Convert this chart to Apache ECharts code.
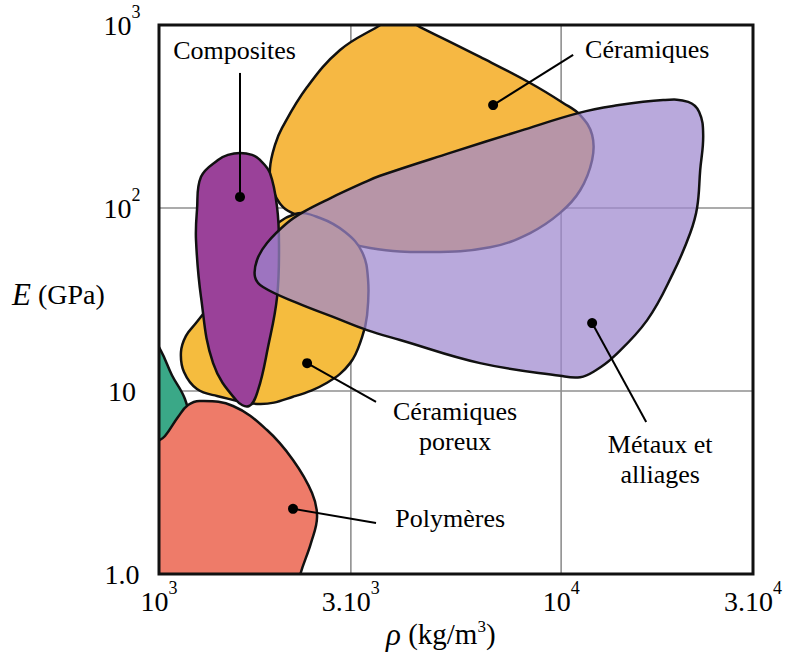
<!DOCTYPE html>
<html>
<head>
<meta charset="utf-8">
<script src="https://cdn.jsdelivr.net/npm/echarts@6/dist/echarts.min.js"></script>
<style>
  html, body { margin: 0; padding: 0; background: #fff; }
  #chart { width: 788px; height: 655px; }
</style>
</head>
<body>
<div id="chart"></div>
<script>
// Ashby chart: Young's modulus E (GPa) against density rho (kg/m3), log-log.
// Each material family is an envelope given as [rho, E] outline points.

const rhoRange = [1000, 30000];
const eRange = [1, 1000];

const rhoTicks = [1000, 3000, 10000, 30000];
const rhoTickLabels = ['{b|10}{s|3}', '{b|3.10}{s|3}', '{b|10}{s|4}', '{b|3.10}{s|4}'];
const eTicks = [1, 10, 100, 1000];
const eTickLabels = ['{b|1.0}', '{b|10}', '{b|10}{s|2}', '{b|10}{s|3}'];

const ceramiques = [
  [2035, 101], [1910, 129], [1888, 165], [1943, 221], [2023, 274], [2335, 458],
  [2820, 730], [3486, 975], [3931, 1120], [4459, 975], [6288, 669], [8374, 482],
  [10116, 375], [11151, 322], [11942, 251], [11942, 183], [11151, 125], [9943, 94],
  [8374, 73], [6658, 61], [4722, 57.5], [3349, 60.5], [2664, 71], [2282, 88]
];

const ceramiquesPoreux = [
  [2179, 92.7], [2515, 88.2], [2902, 73.9], [3199, 57.5], [3311, 40.4], [3292, 26],
  [3199, 19.7], [2987, 14.2], [2618, 11.1], [2154, 9.3], [1783, 8.49], [1394, 9.4],
  [1243, 10.25], [1154, 12.7], [1134, 16.3], [1167, 20], [1236, 23.5], [1502, 40.4],
  [1835, 71.2]
];

const composites = [
  [1590, 200], [1704, 195], [1783, 183], [1888, 155], [1966, 101], [1988, 62.8],
  [1966, 32.6], [1867, 17.4], [1763, 10.1], [1675, 8.28], [1554, 8.93], [1363, 14.2],
  [1272, 32.6], [1236, 66.9], [1243, 97.5], [1272, 148], [1402, 183], [1484, 195]
];

const familleVerte = [
  [950, 20.2], [1012, 16.5], [1077, 12.2], [1160, 9.04], [1181, 6.94], [1096, 4.47],
  [950, 3.7]
];

const polymeres = [
  [1265, 8.82], [1528, 8.28], [1856, 6.12], [2154, 4.2], [2402, 2.77], [2472, 2.05],
  [2388, 1.48], [2243, 0.987], [2179, 0.72], [950, 0.72], [950, 4.76], [1035, 5.68],
  [1115, 7.21], [1181, 8.38]
];

const metaux = [
  [1733, 42], [1753, 52], [1856, 64.4], [2082, 82.8], [2282, 95], [2664, 113],
  [3217, 137], [3546, 150], [5297, 200], [7907, 264], [11023, 330], [13472, 361],
  [17939, 389], [20701, 380], [22044, 335], [22555, 251], [22172, 161], [21793, 101],
  [20943, 73], [18995, 44.2], [16369, 24.4], [13472, 15.3], [12149, 12.9], [11151, 11.9],
  [9943, 12.1], [6288, 14.2], [3977, 19], [3292, 21.5], [2709, 25.4], [2204, 30.3],
  [1814, 37]
];

// Callouts: dot on the family, leader end, text anchor (all in data units).
const callouts = [
  { text: 'Composites', dot: [1590, 115], end: [1590, 547], at: [1541, 730] },
  { text: 'Céramiques', dot: [6774, 365], end: [10712, 686], at: [16369, 739] },
  { text: 'Céramiques\nporeux', dot: [2335, 14.2], end: [3465, 8.71], at: [5449, 6.36] },
  { text: 'Métaux et\nalliages', dot: [11942, 23.5], end: [16276, 6.77], at: [17633, 4.2] },
  { text: 'Polymères', dot: [2154, 2.27], end: [3465, 1.9], at: [5297, 2.0] }
];

const FONT = '"Liberation Serif", "Times New Roman", Times, serif';
const tickRich = {
  b: { fontFamily: FONT, fontSize: 28, lineHeight: 44, fill: '#000' },
  s: { fontFamily: FONT, fontSize: 18, lineHeight: 18, verticalAlign: 'top', fill: '#000' }
};

function blob(name, points, fill) {
  return {
    type: 'custom',
    name: name,
    coordinateSystem: 'cartesian2d',
    clip: true,
    silent: true,
    data: points,
    encode: { x: 0, y: 1 },
    renderItem: function (params, api) {
      if (params.dataIndex !== 0) return null;
      const pts = points.map(function (p) { return api.coord(p); });
      return {
        type: 'polygon',
        shape: { points: pts, smooth: 0.4 },
        style: { fill: fill, stroke: '#111', lineWidth: 2.5, lineJoin: 'round' }
      };
    }
  };
}

const rhoAxisDecor = {
  type: 'custom',
  coordinateSystem: 'cartesian2d',
  clip: false,
  silent: true,
  data: rhoTicks.map(function (v) { return [v, eRange[0]]; }),
  encode: { x: 0, y: 1 },
  renderItem: function (params, api) {
    const v = rhoTicks[params.dataIndex];
    const b = api.coord([v, eRange[0]]);
    const t = api.coord([v, eRange[1]]);
    const children = [];
    if (v > rhoRange[0] && v < rhoRange[1]) {
      children.push({ type: 'line', shape: { x1: b[0], y1: b[1], x2: t[0], y2: t[1] },
        style: { stroke: '#8f8f8f', lineWidth: 1.6 } });
    }
    children.push({ type: 'text', x: b[0], y: b[1] + 27,
      style: { text: rhoTickLabels[params.dataIndex], rich: tickRich, align: 'center',
        verticalAlign: 'middle', fontFamily: FONT, fontSize: 28, fill: '#000' } });
    return { type: 'group', children: children };
  }
};

const eAxisDecor = {
  type: 'custom',
  coordinateSystem: 'cartesian2d',
  clip: false,
  silent: true,
  data: eTicks.map(function (v) { return [rhoRange[0], v]; }),
  encode: { x: 0, y: 1 },
  renderItem: function (params, api) {
    const v = eTicks[params.dataIndex];
    const l = api.coord([rhoRange[0], v]);
    const r = api.coord([rhoRange[1], v]);
    const children = [];
    if (v > eRange[0] && v < eRange[1]) {
      children.push({ type: 'line', shape: { x1: l[0], y1: l[1], x2: r[0], y2: r[1] },
        style: { stroke: '#8f8f8f', lineWidth: 1.6 } });
    }
    children.push({ type: 'text', x: l[0] - 37, y: l[1],
      style: { text: eTickLabels[params.dataIndex], rich: tickRich, align: 'center',
        verticalAlign: 'middle', fontFamily: FONT, fontSize: 28, fill: '#000' } });
    return { type: 'group', children: children };
  }
};

const calloutSeries = {
  type: 'custom',
  coordinateSystem: 'cartesian2d',
  clip: false,
  silent: true,
  z: 5,
  data: callouts.map(function (c) { return c.dot; }),
  encode: { x: 0, y: 1 },
  renderItem: function (params, api) {
    const c = callouts[params.dataIndex];
    const p = api.coord(c.dot), q = api.coord(c.end), t = api.coord(c.at);
    return {
      type: 'group',
      children: [
        { type: 'line', shape: { x1: p[0], y1: p[1], x2: q[0], y2: q[1] },
          style: { stroke: '#000', lineWidth: 2 } },
        { type: 'circle', shape: { cx: p[0], cy: p[1], r: 5 }, style: { fill: '#000' } },
        { type: 'text', x: t[0], y: t[1],
          style: { text: c.text, align: 'center', verticalAlign: 'middle',
            fontFamily: FONT, fontSize: 26, lineHeight: 30, fill: '#000' } }
      ]
    };
  }
};

const frameSeries = {
  type: 'custom',
  coordinateSystem: 'cartesian2d',
  clip: false,
  silent: true,
  z: 6,
  data: [[rhoRange[0], eRange[1]]],
  encode: { x: 0, y: 1 },
  renderItem: function (params, api) {
    const a = api.coord([rhoRange[0], eRange[1]]);
    const b = api.coord([rhoRange[1], eRange[0]]);
    return {
      type: 'rect',
      shape: { x: a[0], y: a[1], width: b[0] - a[0], height: b[1] - a[1] },
      style: { fill: 'none', stroke: '#111', lineWidth: 3 }
    };
  }
};

const option = {
  animation: false,
  backgroundColor: '#fff',
  grid: { left: 159, top: 25, width: 594, height: 549, show: true, backgroundColor: '#fff', borderWidth: 0 },
  xAxis: { type: 'log', logBase: 10, min: rhoRange[0], max: rhoRange[1], show: false },
  yAxis: { type: 'log', logBase: 10, min: eRange[0], max: eRange[1], show: false },
  graphic: [
    { type: 'text', left: 12, top: 279, style: {
      text: '{e|E} {n|(GPa)}', fill: '#000',
      rich: {
        e: { fontFamily: FONT, fontStyle: 'italic', fontSize: 31, fill: '#000' },
        n: { fontFamily: FONT, fontSize: 28, fill: '#000' }
      }, fontFamily: FONT, fontSize: 28 } },
    { type: 'text', left: 386, top: 618, style: {
      text: '{r|ρ} {n|(kg/m}{s|3}{n|)}', fill: '#000',
      rich: {
        r: { fontFamily: FONT, fontStyle: 'italic', fontSize: 31, lineHeight: 32, fill: '#000' },
        n: { fontFamily: FONT, fontSize: 29, lineHeight: 32, fill: '#000' },
        s: { fontFamily: FONT, fontSize: 17, lineHeight: 17, verticalAlign: 'top', fill: '#000' }
      }, fontFamily: FONT, fontSize: 29 } }
  ],
  series: [
    rhoAxisDecor,
    eAxisDecor,
    blob('Céramiques', ceramiques, '#f6b843'),
    blob('Céramiques poreux', ceramiquesPoreux, '#f5bc3e'),
    blob('Composites', composites, '#9a4199'),
    blob('Famille verte', familleVerte, '#3aa887'),
    blob('Polymères', polymeres, '#ee7b69'),
    blob('Métaux et alliages', metaux, 'rgba(158,136,206,0.72)'),
    calloutSeries,
    frameSeries
  ]
};

const chart = echarts.init(document.getElementById('chart'), null, { renderer: 'svg' });
chart.setOption(option);
</script>
</body>
</html>
